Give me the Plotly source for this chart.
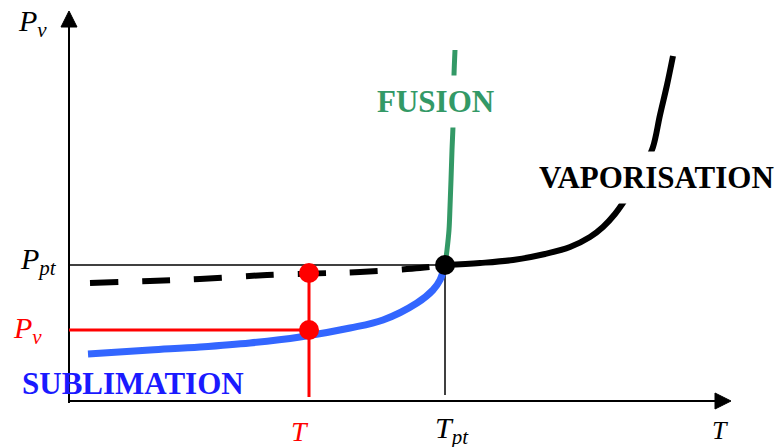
import plotly.graph_objects as go

# Chart units: T to the right, P upwards (one unit is one pixel of the 783x447 canvas)
W, H = 783, 447

# triple point
t_pt, p_pt = 445, 182
# chosen temperature / vapour pressure on the sublimation curve
t_sel, p_sel = 309, 117
p_liq_sel = 174  # metastable liquid pressure at t_sel

sub_t = [88, 150, 200, 250, 300, 350, 383, 417, 433, 440, 445]
sub_p = [93, 97, 100, 104, 110, 119, 127, 144, 157, 167, 182]

fus_t = [445, 447, 449, 450, 451, 452, 453, 453.5, 454, 455]
fus_p = [182, 197, 217, 240, 267, 297, 321, 347, 372, 397]

vap_t = [445, 480, 513, 545, 570, 590, 603, 615, 625, 635, 645, 653, 660, 667, 673]
vap_p = [182, 184, 187, 193, 200, 210, 220, 233, 247, 262, 282, 300, 332, 362, 391]

meta_t = [90, 150, 200, 267, 330, 360, 420, 445]
meta_p = [164, 166, 168, 172, 174, 175, 179, 182]

# axes
x_axis_t, x_axis_p = [69, 717], [46, 46]
y_axis_t, y_axis_p = [69, 69], [44, 422]
x_head_t, x_head_p = [715, 715, 731, 715], [54, 38, 46, 54]
y_head_t, y_head_p = [61, 77, 69, 61], [420, 420, 436, 420]

SERIF = "Liberation Serif, Times New Roman, serif"

fig = go.Figure()


def line(x, y, color, width, dash=None, smooth=False):
    fig.add_trace(go.Scatter(x=x, y=y, mode="lines", hoverinfo="skip",
                             line=dict(color=color, width=width, dash=dash,
                                       shape="spline" if smooth else "linear",
                                       smoothing=1.0)))


def tri(x, y):
    fig.add_trace(go.Scatter(x=x, y=y, mode="lines", fill="toself", hoverinfo="skip",
                             fillcolor="black", line=dict(color="black", width=1)))


line(x_axis_t, x_axis_p, "black", 2)
line(y_axis_t, y_axis_p, "black", 2)
tri(x_head_t, x_head_p)
tri(y_head_t, y_head_p)

# guides through triple point
line([y_axis_t[0], t_pt], [p_pt, p_pt], "black", 1.5)
line([t_pt, t_pt], [p_pt, 52], "black", 1.5)

line(meta_t, meta_p, "black", 6, dash="28px,24px", smooth=True)
line(sub_t, sub_p, "#3366ff", 7, smooth=True)
line(fus_t, fus_p, "#339966", 5, smooth=True)
line(vap_t, vap_p, "black", 6, smooth=True)

# red construction
line([y_axis_t[0], t_sel], [p_sel, p_sel], "red", 3)
line([t_sel, t_sel], [p_liq_sel, 50], "red", 3)
fig.add_trace(go.Scatter(x=[t_sel, t_sel], y=[p_liq_sel, p_sel], mode="markers",
                         hoverinfo="skip", marker=dict(color="red", size=20)))
fig.add_trace(go.Scatter(x=[t_pt], y=[p_pt], mode="markers", hoverinfo="skip",
                         marker=dict(color="black", size=20)))

labels = [
    (32, 424, "<i>P</i><sub><i>v</i></sub>", "black", 30),
    (38, 186, "<i>P</i><sub><i>pt</i></sub>", "black", 30),
    (27, 117, "<i>P</i><sub><i>v</i></sub>", "red", 30),
    (300, 16, "<i>T</i>", "red", 28),
    (452, 17, "<i>T</i><sub><i>pt</i></sub>", "black", 30),
    (720, 17, "<i>T</i>", "black", 26),
]
for x, y, txt, col, size in labels:
    fig.add_annotation(x=x, y=y, text=txt, showarrow=False,
                       font=dict(family=SERIF, size=size, color=col))

names = [
    (133, 64, "SUBLIMATION", "#1a1aff", "rgba(0,0,0,0)"),
    (435, 346, "FUSION", "#339966", "white"),
    (656, 270, "VAPORISATION", "black", "white"),
]
for x, y, txt, col, bg in names:
    fig.add_annotation(x=x, y=y, text="<b>" + txt + "</b>", showarrow=False,
                       bgcolor=bg, borderpad=8,
                       font=dict(family=SERIF, size=31, color=col))

fig.update_layout(
    width=W, height=H,
    margin=dict(l=0, r=0, t=0, b=0),
    paper_bgcolor="white", plot_bgcolor="white",
    showlegend=False,
    xaxis=dict(range=[0, W], visible=False, fixedrange=True),
    yaxis=dict(range=[0, H], visible=False, fixedrange=True),
)

fig.write_html("out.html", config=dict(displayModeBar=False),
               post_script="document.body.style.margin = '0';")
